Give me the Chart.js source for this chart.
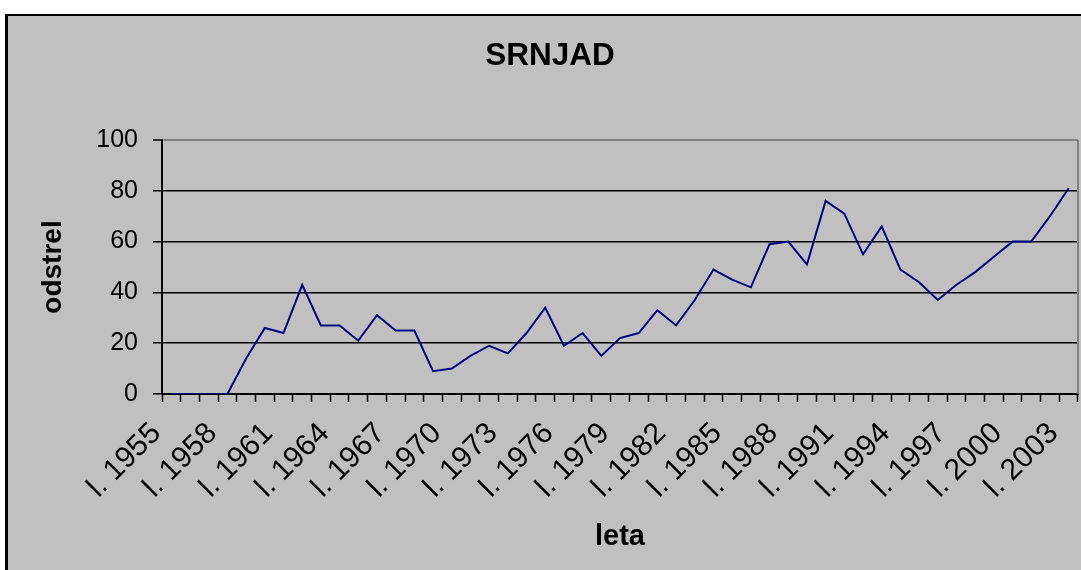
<!DOCTYPE html>
<html>
<head>
<meta charset="utf-8">
<script src="https://cdn.jsdelivr.net/npm/chart.js@4/dist/chart.umd.min.js"></script>
<style>
  html, body { margin: 0; padding: 0; background: #fff; overflow: hidden; }
  #okvir { position: absolute; left: 5px; top: 14px; width: 1100px; height: 600px;
           background: #c0c0c0; border-top: 2px solid #000; border-left: 3px solid #000; }
  #myChart { position: absolute; left: 0; top: 0; }
</style>
</head>
<body>
<div id="okvir"></div>
<canvas id="myChart" width="1081" height="570"></canvas>
<script>
const leta = [
  'l. 1955', 'l. 1956', 'l. 1957', 'l. 1958', 'l. 1959', 'l. 1960', 'l. 1961', 'l. 1962', 'l. 1963', 'l. 1964',
  'l. 1965', 'l. 1966', 'l. 1967', 'l. 1968', 'l. 1969', 'l. 1970', 'l. 1971', 'l. 1972', 'l. 1973', 'l. 1974',
  'l. 1975', 'l. 1976', 'l. 1977', 'l. 1978', 'l. 1979', 'l. 1980', 'l. 1981', 'l. 1982', 'l. 1983', 'l. 1984',
  'l. 1985', 'l. 1986', 'l. 1987', 'l. 1988', 'l. 1989', 'l. 1990', 'l. 1991', 'l. 1992', 'l. 1993', 'l. 1994',
  'l. 1995', 'l. 1996', 'l. 1997', 'l. 1998', 'l. 1999', 'l. 2000', 'l. 2001', 'l. 2002', 'l. 2003'
];

const odstrel = [
  0, 0, 0, 0, 14, 26, 24, 43, 27, 27,
  21, 31, 25, 25, 9, 10, 15, 19, 16, 24,
  34, 19, 24, 15, 22, 24, 33, 27, 37, 49,
  45, 42, 59, 60, 51, 76, 71, 55, 66, 49,
  44, 37, 43, 48, 54, 60, 60, 70, 81
];

// only every third year gets a label
const prikazana = [
  'l. 1955', 'l. 1958', 'l. 1961', 'l. 1964', 'l. 1967', 'l. 1970', 'l. 1973', 'l. 1976', 'l. 1979',
  'l. 1982', 'l. 1985', 'l. 1988', 'l. 1991', 'l. 1994', 'l. 1997', 'l. 2000', 'l. 2003'
];

Chart.defaults.font.family = "'Liberation Sans', Arial, sans-serif";
Chart.defaults.color = '#000';

// gray right edge of the plot area
const desniRob = {
  id: 'desniRob',
  beforeDatasetsDraw(chart) {
    const {ctx, chartArea: a} = chart;
    ctx.save();
    ctx.strokeStyle = '#808080';
    ctx.lineWidth = 2;
    ctx.beginPath();
    ctx.moveTo(a.right, a.top);
    ctx.lineTo(a.right, a.bottom);
    ctx.stroke();
    ctx.restore();
  }
};

let ctx = document.getElementById('myChart');

let myChart = new Chart(ctx, {
    type: 'line',
    data: {
        labels: leta,
        datasets: [{
            label: 'odstrel',
            data: odstrel,
            borderColor: '#000080',
            borderWidth: 2,
            pointRadius: 0,
            tension: 0,
            fill: false
        }]
    },
    options: {
        responsive: false,
        animation: false,
        layout: { padding: { left: 22, right: 3, top: 0, bottom: 0 } },
        plugins: {
            legend: { display: false },
            tooltip: { enabled: false },
            title: {
                display: true,
                text: 'SRNJAD',
                color: '#000',
                font: { size: 31.5, weight: 'bold' },
                padding: { top: 37, bottom: 65.2 }
            }
        },
        scales: {
            x: {
                offset: true,
                grid: { display: true, drawOnChartArea: false, offset: true, tickLength: 8, tickColor: '#000', tickWidth: 1.5 },
                border: { color: '#000', width: 2 },
                ticks: {
                    autoSkip: false,
                    minRotation: 45,
                    maxRotation: 45,
                    padding: 14,
                    labelOffset: -15,
                    font: { size: 30 },
                    color: '#000',
                    callback: function (v, i) {
                        return prikazana.includes(leta[i]) ? leta[i] : '';
                    }
                },
                title: { display: true, text: 'leta', color: '#000', font: { size: 29, weight: 'bold' }, padding: { top: 0, bottom: 16 } },
                afterFit: function (s) { s.height = 176; s.paddingLeft = 0; s.paddingRight = 0; }
            },
            y: {
                min: 0,
                max: 100,
                ticks: { stepSize: 20, padding: 15, font: { size: 25 }, color: '#000' },
                grid: {
                    color: c => c.tick && c.tick.value === 100 ? '#808080' : '#000',
                    lineWidth: c => c.tick && c.tick.value === 100 ? 2 : 1.5,
                    tickLength: 9,
                    tickColor: '#000',
                    tickWidth: 1.5
                },
                border: { color: '#000', width: 2 },
                title: { display: true, text: 'odstrel', color: '#000', font: { size: 28, weight: 'bold' }, padding: { top: 14, bottom: 0 } },
                afterFit: function (s) { s.width = 140; }
            }
        }
    },
    plugins: [desniRob]
});
</script>
</body>
</html>
